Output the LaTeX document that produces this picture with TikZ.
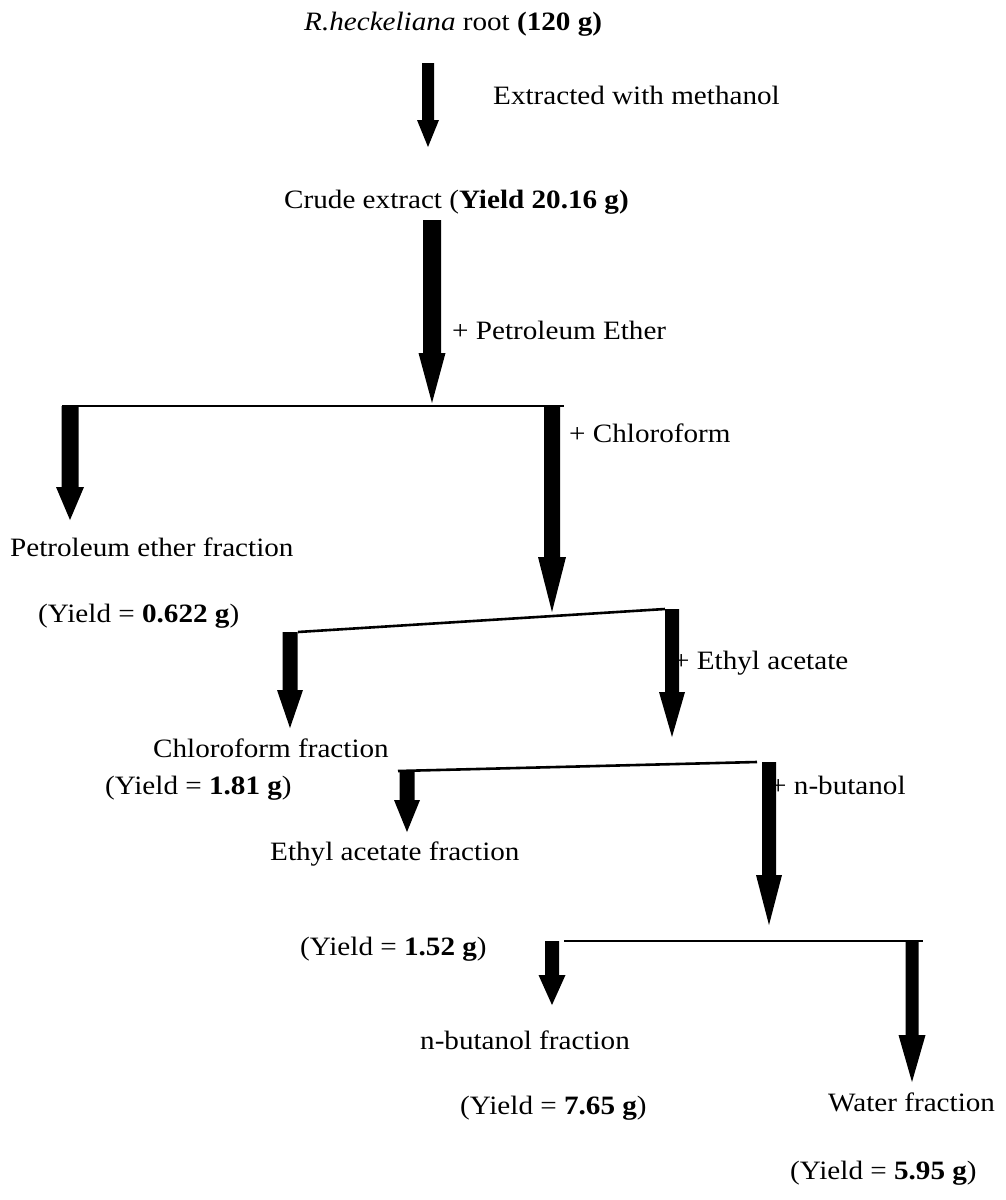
\documentclass[tikz,border=0pt]{standalone}
\usepackage{fontspec}
\setmainfont{Liberation Serif}
\usepackage{graphicx}
\usetikzlibrary{calc}
\newcommand\wide[1]{\scalebox{1.1}[1]{#1}}
% fat arrow: start coord, tip coord, shaft width, head width, head length
\newcommand\fatarr[5]{\fill let \p1=(#1), \p2=(#2) in
 ({\x1-0.5*#3pt},\y1) -- ({\x1+0.5*#3pt},\y1) -- ({\x1+0.5*#3pt},{\y2+#5pt}) --
 ({\x1+0.5*#4pt},{\y2+#5pt}) -- (\x1,\y2) -- ({\x1-0.5*#4pt},{\y2+#5pt}) --
 ({\x1-0.5*#3pt},{\y2+#5pt}) -- cycle;}
\begin{document}
\begin{tikzpicture}[x=1pt,y=-1pt,
  lbl/.style={anchor=base west,inner sep=0pt,font=\fontsize{26.5}{30}\selectfont},
  bar/.style={line width=2.6pt}]
\useasboundingbox (0,0) rectangle (1006,1200);
% texts
\node[lbl] (title) at (304,30) {\wide{\textit{R.heckeliana} root \textbf{(120 g)}}};
\node[lbl] (extr) at (493,104) {\wide{Extracted with methanol}};
\node[lbl] (crude) at (284,208) {\wide{Crude extract (\textbf{Yield 20.16 g)}}};
\node[lbl] (pel) at (452,339) {\wide{+ Petroleum Ether}};
\node[lbl] (chl) at (569,442) {\wide{+ Chloroform}};
\node[lbl] (pefrac) at (10,556) {\wide{Petroleum ether fraction}};
\node[lbl] (ypef) at (38,622) {\wide{(Yield = \textbf{0.622 g})}};
\node[lbl] (eal) at (673,669) {\wide{+ Ethyl acetate}};
\node[lbl] (chfrac) at (153,757) {\wide{Chloroform fraction}};
\node[lbl] (ychf) at (105,794) {\wide{(Yield = \textbf{1.81 g})}};
\node[lbl] (nbl) at (770,794) {\wide{+ n-butanol}};
\node[lbl] (eafrac) at (270,860) {\wide{Ethyl acetate fraction}};
\node[lbl] (yeaf) at (300,955) {\wide{(Yield = \textbf{1.52 g})}};
\node[lbl] (nbfrac) at (420,1049) {\wide{n-butanol fraction}};
\node[lbl] (ynbf) at (460,1114) {\wide{(Yield = \textbf{7.65 g})}};
\node[lbl] (wfrac) at (828,1111) {\wide{Water fraction}};
\node[lbl] (ywf) at (790,1179) {\wide{(Yield = \textbf{5.95 g})}};
% coordinates
\coordinate (a1s) at (428,63);   \coordinate (a1t) at (428,147);
\coordinate (a2s) at (432,220);  \coordinate (a2t) at (432,403);
\coordinate (l1a) at (62,406);   \coordinate (l1b) at (564,406);
\coordinate (pes) at (70,406);   \coordinate (pet) at (70,520);
\coordinate (chs) at (552,406);  \coordinate (cht) at (552,612);
\coordinate (l2a) at (298,632);  \coordinate (l2b) at (665,609);
\coordinate (cfs) at (290,632);  \coordinate (cft) at (290,728);
\coordinate (eas) at (672,609);  \coordinate (eat) at (672,737);
\coordinate (l3a) at (398,771);  \coordinate (l3b) at (757,762);
\coordinate (efs) at (407,771);  \coordinate (eft) at (407,832);
\coordinate (nbs) at (769,762);  \coordinate (nbt) at (769,925);
\coordinate (l4a) at (564,941);  \coordinate (l4b) at (923,941);
\coordinate (nfs) at (552,941);  \coordinate (nft) at (552,1005);
\coordinate (wfs) at (912,941);  \coordinate (wft) at (912,1082);
% bars
\draw[bar] (l1a) -- (l1b);
\draw[bar] (l2a) -- (l2b);
\draw[bar] (l3a) -- (l3b);
\draw[bar] (l4a) -- (l4b);
% arrows
\fatarr{a1s}{a1t}{12}{22}{27}
\fatarr{a2s}{a2t}{18}{27}{50}
\fatarr{pes}{pet}{17}{28}{33}
\fatarr{chs}{cht}{16}{28}{55}
\fatarr{cfs}{cft}{15}{26}{38}
\fatarr{eas}{eat}{14}{26}{45}
\fatarr{efs}{eft}{15}{26}{32}
\fatarr{nbs}{nbt}{14}{26}{50}
\fatarr{nfs}{nft}{14}{27}{30}
\fatarr{wfs}{wft}{13}{27}{47}
\end{tikzpicture}
\end{document}
